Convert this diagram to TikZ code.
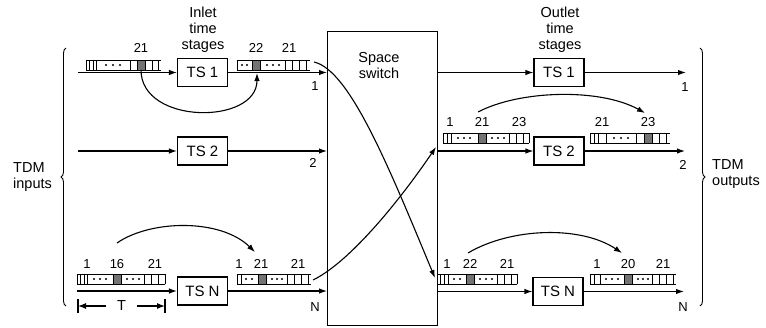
\documentclass[tikz,border=0pt]{standalone}
\usepackage{fontspec}
\setmainfont{Liberation Sans}
\usetikzlibrary{arrows.meta, decorations.pathreplacing}

% one TDM frame: name, left x, right x, top y, dividers, dots, hatched slot
\newcommand{\slotframe}[7]{%
  \draw[frameline] (#2,#4) -- (#3,#4) (#2,#4+10) -- (#3,#4+10);
  \foreach \sx in {#5} \draw[frameline] (\sx,#4) -- (\sx,#4+10);
  \foreach \sx in {#6} \fill (\sx,#4+5) circle[radius=1.1pt];
  \filldraw[hatch] (#7,#4) rectangle (#7+8,#4+10);
  \coordinate (#1) at (#7+4,#4+5);
}

\begin{document}
\begin{tikzpicture}[
  x=1pt, y=-1pt,
  font=\fontsize{14.5}{16}\selectfont,
  tsbox/.style={draw, line width=1.1pt, minimum width=50pt, minimum height=28pt, inner sep=0pt, font=\fontsize{15}{16}\selectfont},
  arrow/.style={-{Latex[length=8pt,width=5.5pt]}, line width=1.1pt},
  dimline/.style={{Latex[length=8pt,width=6pt]}-{Latex[length=8pt,width=6pt]}, line width=1.1pt},
  frameline/.style={line width=0.8pt},
  hatch/.style={fill=black!55, draw=black, line width=0.6pt},
  num/.style={font=\fontsize{13}{14}\selectfont, inner sep=0pt},
  caption/.style={align=center, inner sep=0pt},
  brace/.style={decorate, decoration={brace, amplitude=5pt}, line width=0.9pt}
]
\useasboundingbox (0,0) rectangle (766,327);

% space switch
\node[draw, line width=1.1pt, minimum width=110pt, minimum height=294pt, inner sep=0pt, anchor=north west] (switch) at (327,31) {};
\node[caption] (swlabel) at (379,66) {Space\\switch};

% inlet time stages
\node[caption] (inlet) at (203,30) {Inlet\\time\\stages};
\node[tsbox] (tsi1) at (202.5,72.5) {TS 1};
\node[tsbox] (tsi2) at (202.5,151) {TS 2};
\node[tsbox] (tsiN) at (202.5,291) {TS N};

\coordinate (src1) at (78,72.5);
\coordinate (src2) at (78,151);
\coordinate (srcN) at (77,291);

\draw[arrow] (src1) -- (tsi1);
\draw[arrow] (tsi1) -- (tsi1 -| switch.west);
\draw[arrow] (src2) -- (tsi2);
\draw[arrow] (tsi2) -- (tsi2 -| switch.west);
\draw[arrow] (srcN) -- (tsiN);
\draw[arrow] (tsiN) -- (tsiN -| switch.west);

\node[num] (lin1) at (315,86) {1};
\node[num] (lin2) at (313,163) {2};
\node[num] (linN) at (315,307) {N};

% outlet time stages
\node[caption] (outlet) at (560,30) {Outlet\\time\\stages};
\node[tsbox] (tso1) at (559,72.5) {TS 1};
\node[tsbox] (tso2) at (559,151) {TS 2};
\node[tsbox] (tsoN) at (558,291.5) {TS N};

\coordinate (dst1) at (686,72.5);
\coordinate (dst2) at (685,151);
\coordinate (dstN) at (684,291.5);

\draw[arrow] (tso1 -| switch.east) -- (tso1);
\draw[arrow] (tso1) -- (dst1);
\draw[arrow] (tso2 -| switch.east) -- (tso2);
\draw[arrow] (tso2) -- (dst2);
\draw[arrow] (tsoN -| switch.east) -- (tsoN);
\draw[arrow] (tsoN) -- (dstN);

\node[num] (lout1) at (685,87) {1};
\node[num] (lout2) at (683,165) {2};
\node[num] (loutN) at (683,307) {N};

% frames
\slotframe{in1pre}{86}{161}{60}{86,89.5,93,96.5,130,137,145,152,158}{106,113,120}{137}
\slotframe{in1post}{237}{310}{60}{237,252,260,285,292,299,306}{242,247,267,273,279}{252}
\slotframe{inNpre}{77}{165}{274}{77,80.5,84,87.5,113,121,144,151,158,165}{94,100,106,127,133,139}{113}
\slotframe{inNpost}{237}{311}{274}{237,241,258,266,287,294,301,308}{246,252,272,277,282}{258}
\slotframe{out2pre}{443}{529}{133}{443,447,451,478,486,509,516,523,529}{458,464,470,492,498,504}{478}
\slotframe{out2post}{590}{670}{133}{590,594,598,606,636,644,652,659,666}{614,621,628}{644}
\slotframe{outNpre}{437}{517}{274}{437,440.5,444,448,466,474,497,504,511,517}{454,460,480,486,492}{466}
\slotframe{outNpost}{590}{676}{274}{590,594,600,624,632,652,659,666,673}{606,612,618,638,643,648}{624}

% slot numbers
\foreach \x/\t [count=\i] in {141/21, 256/22, 289/21}
  \node[num] (nr1\i) at (\x,48) {\t};
\foreach \x/\t [count=\i] in {87/1, 117/16, 155/21, 239/1, 261/21, 298/21, 447/1, 470/22, 507/21, 597/1, 628/20, 663/21}
  \node[num] (nrN\i) at (\x,264) {\t};
\foreach \x/\t [count=\i] in {450/1, 482/21, 519/23, 602/21, 648/23}
  \node[num] (nr2\i) at (\x,122) {\t};

% time slot interchange
\coordinate (swap1a) at (141,70);
\coordinate (swap1b) at (257,73);
\draw[arrow] (swap1a) .. controls (141,125) and (257,125) .. (swap1b);
\coordinate (swapNa) at (117,243);
\coordinate (swapNb) at (255,252);
\draw[arrow] (swapNa) .. controls (150,220) and (220,218) .. (swapNb);
\coordinate (swap2a) at (478,112);
\coordinate (swap2b) at (645,113);
\draw[arrow] (swap2a) .. controls (520,90) and (600,88) .. (swap2b);
\coordinate (swapNc) at (468,253);
\coordinate (swapNd) at (622,253);
\draw[arrow] (swapNc) .. controls (510,228) and (580,225) .. (swapNd);

% through the space switch
\coordinate (crossA) at (314,62);
\coordinate (crossAend) at (435,278);
\draw[arrow] (crossA) .. controls (350,70) and (390,170) .. (crossAend);
\coordinate (crossB) at (313,280);
\coordinate (crossBend) at (436,147);
\draw[arrow] (crossB) .. controls (350,262) and (400,200) .. (crossBend);

% frame period
\coordinate (tl) at (78,306);
\coordinate (tr) at (165,306);
\draw[dimline] (tl) -- node[fill=white, inner ysep=1pt, inner xsep=11pt] (tper) {T} (tr);
\draw[line width=1.1pt] ([yshift=7pt]tl) -- ([yshift=-7pt]tl);
\draw[line width=1.1pt] ([yshift=7pt]tr) -- ([yshift=-7pt]tr);

% inputs and outputs
\coordinate (bin1) at (66,306);
\coordinate (bin2) at (66,48);
\draw[brace] (bin1) -- (bin2);
\node[align=left, anchor=west, inner sep=0pt] (tdmin) at (13,177) {TDM\\inputs};
\coordinate (bout1) at (700,48);
\coordinate (bout2) at (700,306);
\draw[brace] (bout1) -- (bout2);
\node[align=left, anchor=west, inner sep=0pt] (tdmout) at (712,174) {TDM\\outputs};
\end{tikzpicture}
\end{document}
